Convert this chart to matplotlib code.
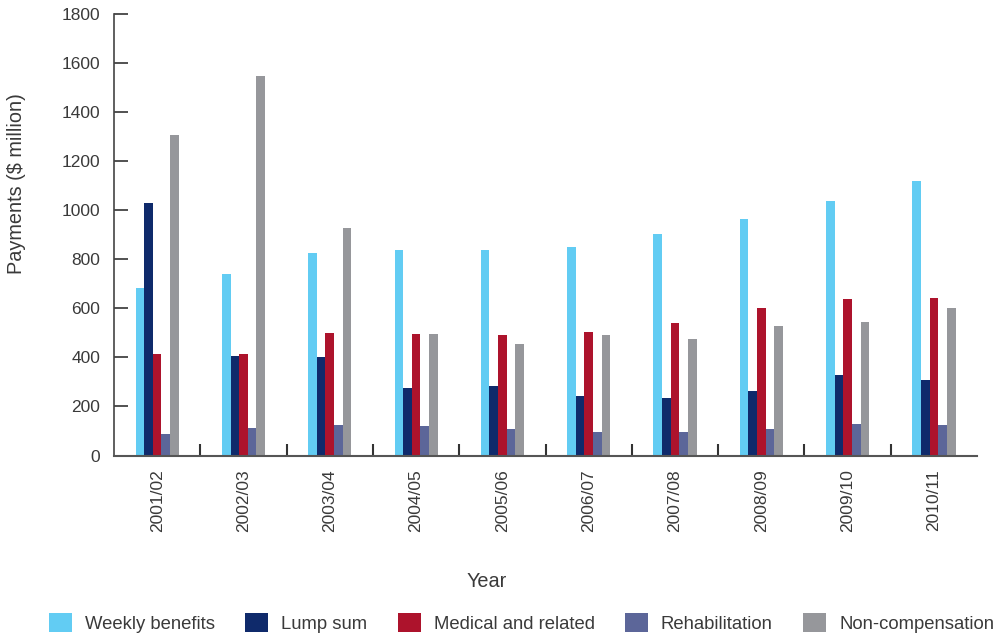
import matplotlib
matplotlib.use("Agg")
import matplotlib.pyplot as plt
import numpy as np
from matplotlib.patches import Patch

years = ["2001/02", "2002/03", "2003/04", "2004/05", "2005/06",
         "2006/07", "2007/08", "2008/09", "2009/10", "2010/11"]
weekly = [683, 740, 826, 838, 838, 850, 903, 965, 1038, 1120]
lump = [1030, 405, 401, 275, 283, 242, 234, 263, 328, 307]
medical = [414, 414, 499, 495, 491, 503, 540, 601, 638, 642]
rehab = [87, 112, 124, 120, 107, 95, 95, 107, 128, 124]
noncomp = [1307, 1548, 928, 495, 454, 491, 475, 528, 544, 601]

series = [
    ("Weekly benefits", weekly, "#62ccf3"),
    ("Lump sum", lump, "#0f2a6b"),
    ("Medical and related", medical, "#ad132c"),
    ("Rehabilitation", rehab, "#5c6699"),
    ("Non-compensation", noncomp, "#96979b"),
]

plt.rcParams['font.family'] = ['Liberation Sans', 'DejaVu Sans']
txt = "#3a3a3a"

fig = plt.figure(figsize=(9.94, 6.36), dpi=100)
ax = fig.add_axes([0.1147, 0.2838, 0.8683, 0.6937])

x = np.arange(len(years))
w = 0.1
for i, (name, vals, col) in enumerate(series):
    ax.bar(x + (i - 2) * w, vals, width=w, color=col, label=name, linewidth=0)

ax.set_xlim(-0.5, len(years) - 0.5)
ax.set_ylim(0, 1800)
ax.set_yticks(np.arange(0, 1801, 200))
ax.set_xticks(x)
ax.set_xticklabels(years, rotation=90, fontsize=12.5, color=txt)
ax.set_xticks(np.arange(0.5, len(years) - 0.5, 1), minor=True)
ax.tick_params(axis='x', which='major', length=0, pad=10)
ax.tick_params(axis='x', which='minor', direction='in', length=9, width=1.5, color="#333333")
ax.tick_params(axis='y', direction='in', length=10, width=1.2, color="#333333",
               labelsize=12.5, labelcolor=txt, pad=10)
for s in ['top', 'right']:
    ax.spines[s].set_visible(False)
ax.spines['left'].set_color("#444444")
ax.spines['bottom'].set_color("#555555")
ax.spines['left'].set_linewidth(1.2)
ax.spines['bottom'].set_linewidth(1.5)

ax.set_ylabel("Payments ($ million)", fontsize=14.3, color=txt)
ax.yaxis.set_label_coords(-0.102, 0.616)
ax.set_xlabel("Year", fontsize=14.3, color=txt)
ax.xaxis.set_label_coords(0.432, -0.265)

handles = [Patch(facecolor=c, label=n) for n, _, c in series]
fig.legend(handles=handles, loc='center left', bbox_to_anchor=(0.0493, 0.021), ncol=5,
           frameon=False, fontsize=13.3, handlelength=1.24, handleheight=1.24,
           columnspacing=1.65, handletextpad=0.7, labelcolor=txt, borderaxespad=0,
           borderpad=0)

fig.savefig("out.png", dpi=100)
